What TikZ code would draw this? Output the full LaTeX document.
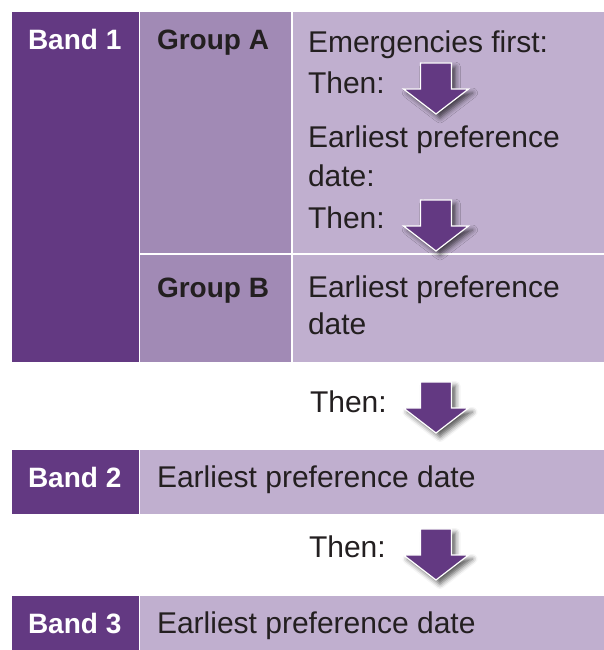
\documentclass[tikz,border=0pt]{standalone}
\usepackage{fontspec}
\setmainfont{Liberation Sans}
\usetikzlibrary{shadows.blur}
\definecolor{bdark}{HTML}{633982}
\definecolor{bmid}{HTML}{A18AB5}
\definecolor{blight}{HTML}{C0AFCF}
\definecolor{ink}{HTML}{231F20}
\tikzset{
  box/.style={draw=none,inner sep=0pt,outer sep=0pt,anchor=north west},
  darkbox/.style={box,fill=bdark},
  midbox/.style={box,fill=bmid},
  lightbox/.style={box,fill=blight},
  txt/.style={anchor=base west,inner sep=0pt,outer sep=0pt,font=\fontsize{30}{36}\selectfont,text=ink},
  bandtxt/.style={anchor=base west,inner sep=0pt,outer sep=0pt,font=\fontsize{28}{34}\selectfont\bfseries,text=white},
  grouptxt/.style={anchor=base west,inner sep=0pt,outer sep=0pt,font=\fontsize{28}{34}\selectfont\bfseries,text=ink},
  downarrow/.pic={
    \fill[bdark,draw=white,line width=1.2pt,line join=miter,
      blur shadow={shadow xshift=4pt,shadow yshift=-4pt,shadow blur radius=5pt,shadow opacity=65}]
      (0,0) -- (-32.5,-25) -- (-15.5,-25) -- (-15.5,-51) -- (15.5,-51) -- (15.5,-25) -- (32.5,-25) -- cycle;
  }
}
\begin{document}
\begin{tikzpicture}[x=1pt,y=-1pt]
\useasboundingbox (0,0) rectangle (604,650);
% Band 1 block
\node[darkbox,minimum width=127pt,minimum height=350pt] (band1) at (12,12) {};
\node[midbox,minimum width=151pt,minimum height=241pt] (grpA) at (140,12) {};
\node[lightbox,minimum width=311pt,minimum height=241pt] (grpAr) at (293,12) {};
\node[midbox,minimum width=151pt,minimum height=107pt] (grpB) at (140,255) {};
\node[lightbox,minimum width=311pt,minimum height=107pt] (grpBr) at (293,255) {};
% Band 2, Band 3
\node[darkbox,minimum width=127pt,minimum height=64pt] (band2) at (12,450) {};
\node[lightbox,minimum width=464pt,minimum height=64pt] (band2r) at (140,450) {};
\node[darkbox,minimum width=127pt,minimum height=54pt] (band3) at (12,596) {};
\node[lightbox,minimum width=464pt,minimum height=54pt] (band3r) at (140,596) {};
% texts
\node[bandtxt] (t-band1) at (28,50) {Band 1};
\node[grouptxt] (t-grpA) at (157,50) {Group A};
\node[txt] (t-emerg) at (308,53) {Emergencies first:};
\node[txt] (t-then1) at (308,94) {Then:};
\node[txt] (t-earl1) at (308,147) {Earliest preference};
\node[txt] (t-date1) at (308,186) {date:};
\node[txt] (t-then2) at (308,228) {Then:};
\node[grouptxt] (t-grpB) at (157,297) {Group B};
\node[txt] (t-earl2) at (308,297) {Earliest preference};
\node[txt] (t-date2) at (308,334) {date};
\node[txt] (t-then3) at (310,412) {Then:};
\node[bandtxt] (t-band2) at (28,487) {Band 2};
\node[txt] (t-earl3) at (157,487) {Earliest preference date};
\node[txt] (t-then4) at (309,557) {Then:};
\node[bandtxt] (t-band3) at (28,633) {Band 3};
\node[txt] (t-earl4) at (157,633) {Earliest preference date};
% arrows
\pic (arr1) at (436,114) {downarrow};
\pic (arr2) at (436,251) {downarrow};
\pic (arr3) at (436,433) {downarrow};
\pic (arr4) at (436,580) {downarrow};
\end{tikzpicture}
\end{document}
